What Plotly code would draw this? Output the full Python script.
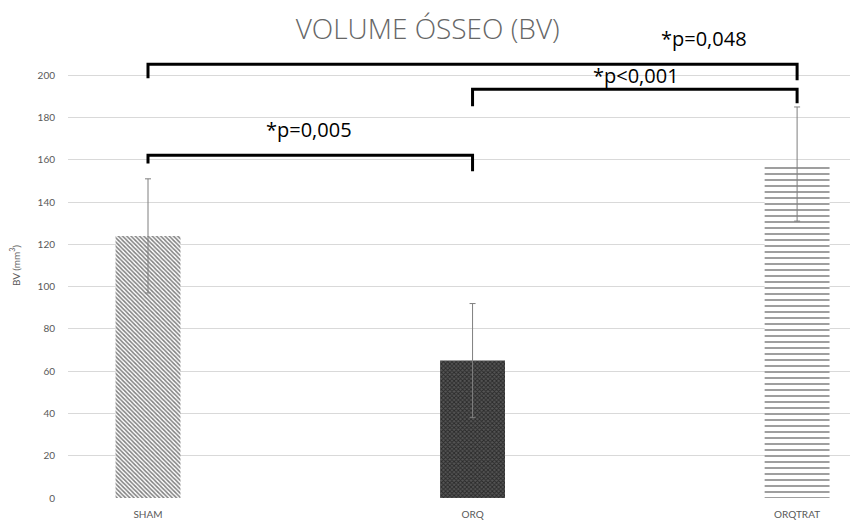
import plotly.graph_objects as go

categories = ["SHAM", "ORQ", "ORQTRAT"]
bv_mean = [124, 65, 158]
bv_sd = [27, 27, 27]
y_ticks = [0, 20, 40, 60, 80, 100, 120, 140, 160, 180, 200]

# significance brackets: (left group index, right group index, bar level, leg end left, leg end right)
br_left = [0, 1, 0]
br_right = [2, 2, 1]
br_level = [205.2, 193.4, 162.2]
br_leg_l = [198.6, 185.3, 158.2]
br_leg_r = [197.6, 186.8, 154.6]
p_labels = ["*p=0,048", "*p<0,001", "*p=0,005"]
p_x = [1.713, 1.504, 0.496]
p_y = [217.5, 200.0, 174.5]

patterns = [
    dict(shape="\\", fgcolor="#000000", bgcolor="#ffffff", size=3, solidity=0.5),
    dict(shape="x", fgcolor="#000000", bgcolor="#555555", size=3, solidity=0.5),
    dict(shape="-", fgcolor="#000000", bgcolor="#ffffff", size=6, solidity=0.25),
]

fig = go.Figure()
for i, c in enumerate(categories):
    fig.add_trace(go.Bar(
        x=[i], y=[bv_mean[i]], width=0.2,
        marker=dict(color="#ffffff", pattern=patterns[i], line=dict(width=0)),
        error_y=dict(type="data", array=[bv_sd[i]], color="#7f7f7f", thickness=1, width=3),
        showlegend=False,
    ))

for l, r, lv, ll, lr in zip(br_left, br_right, br_level, br_leg_l, br_leg_r):
    fig.add_shape(type="path", xref="x", yref="y",
                  path=f"M {l},{ll} L {l},{lv} L {r},{lv} L {r},{lr}",
                  line=dict(color="#000000", width=3))

for t, px, py in zip(p_labels, p_x, p_y):
    fig.add_annotation(x=px, y=py, xref="x", yref="y", text=t, showarrow=False,
                       font=dict(family="Open Sans", size=20, color="#000000"))

fig.update_layout(
    width=860, height=522,
    margin=dict(l=60, r=18, t=25, b=32),
    paper_bgcolor="#ffffff", plot_bgcolor="#ffffff",
    title=dict(text="VOLUME ÓSSEO (BV)", x=0.488, xanchor="center", y=0.96, yanchor="middle",
               font=dict(family="Open Sans", size=28, weight=300, color="#666666")),
    xaxis=dict(range=[-0.2465, 2.163], tickvals=[0, 1, 2], ticktext=categories,
               showgrid=False, zeroline=False, showline=False, ticks="", automargin=False,
               ticklabelstandoff=9,
               tickfont=dict(family="Lato", size=10, color="#595959")),
    yaxis=dict(range=[0, 220], tickvals=y_ticks, showgrid=True, gridcolor="#d9d9d9", gridwidth=1,
               zeroline=False, showline=False, ticks="", automargin=False,
               ticklabelstandoff=12,
               tickfont=dict(family="Lato", size=10, color="#595959"),
               title=dict(text="BV (mm<sup>3</sup>)", standoff=15,
                          font=dict(family="Lato", size=10, color="#595959"))),
)

fig.write_html("out.html")
